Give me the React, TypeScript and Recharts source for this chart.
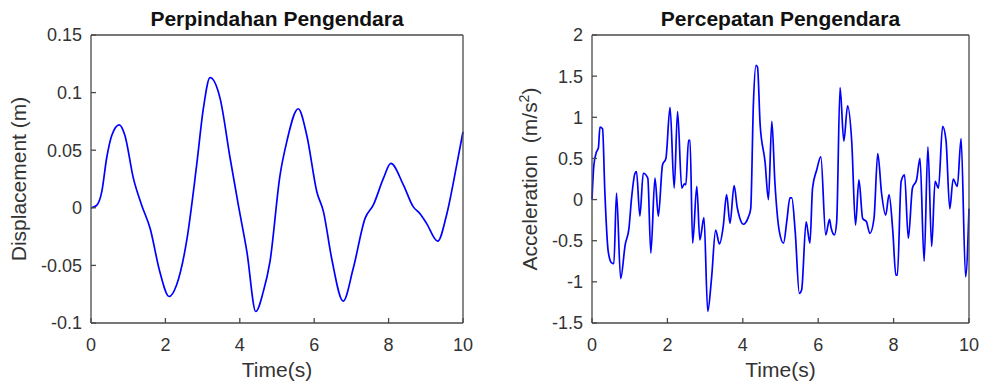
import React from 'react';
import { LineChart, Line, XAxis, YAxis } from 'recharts';

// Displacement response (m) sampled along time (s)
const dispTime = [
  0, 0.15, 0.29, 0.42, 0.56, 0.76, 0.91, 1.14, 1.36, 1.59, 1.85, 2.1, 2.3, 2.57, 2.84, 3.02, 3.2, 3.47,
  3.74, 3.96, 4.19, 4.43, 4.63, 4.81, 5.08, 5.26, 5.57, 5.8, 6.07, 6.25, 6.47, 6.78, 7.05, 7.37, 7.59,
  7.86, 8.06, 8.4, 8.66, 8.84, 9.02, 9.32, 9.56, 9.83, 10,
];
const dispValue = [
  0, 0.002, 0.014, 0.043, 0.063, 0.072, 0.063, 0.0255, 0.0025, -0.018, -0.0555, -0.077, -0.067, -0.029,
  0.037, 0.086, 0.113, 0.095, 0.043, 0.0025, -0.038, -0.09, -0.073, -0.047, 0.028, 0.057, 0.086, 0.063,
  0.014, -0.0035, -0.044, -0.081, -0.0525, -0.009, 0.0025, 0.0255, 0.0385, 0.0197, 0.001, -0.005, -0.0135,
  -0.029, -0.006, 0.037, 0.066,
];

// Acceleration response (m/s^2)
const accTime = [
  0, 0.05, 0.12, 0.17, 0.21, 0.28, 0.34, 0.43, 0.52, 0.58, 0.65, 0.76, 0.88, 0.98, 1.05, 1.14, 1.18, 1.27,
  1.36, 1.48, 1.56, 1.67, 1.76, 1.87, 1.96, 2.07, 2.18, 2.27, 2.38, 2.45, 2.49, 2.56, 2.6, 2.67, 2.78, 2.86,
  2.97, 3.07, 3.17, 3.28, 3.38, 3.48, 3.57, 3.66, 3.77, 3.85, 3.91, 4.01, 4.15, 4.21, 4.28, 4.35, 4.39, 4.46,
  4.59, 4.68, 4.77, 4.85, 4.97, 5.08, 5.17, 5.25, 5.3, 5.39, 5.5, 5.56, 5.68, 5.78, 5.85, 5.96, 6.07, 6.2,
  6.3, 6.34, 6.43, 6.49, 6.58, 6.68, 6.78, 6.89, 6.99, 7.08, 7.18, 7.28, 7.37, 7.48, 7.58, 7.68, 7.79, 7.88,
  7.98, 8.06, 8.1, 8.2, 8.29, 8.39, 8.5, 8.61, 8.7, 8.81, 8.91, 9.01, 9.1, 9.19, 9.3, 9.39, 9.49, 9.58, 9.69,
  9.79, 9.91, 10,
];
const accValue = [
  0, 0.42, 0.58, 0.63, 0.88, 0.86, 0.1, -0.63, -0.77, -0.78, 0.08, -0.96, -0.55, -0.35, 0.02, 0.32, 0.34, -0.2,
  0.32, 0.26, -0.65, 0.26, -0.2, 0.42, 0.5, 1.12, 0.14, 1.07, 0.14, 0.19, 0.18, 0.72, 0.72, -0.53, 0.16, -0.49,
  -0.22, -1.36, -0.96, -0.37, -0.54, -0.33, 0.06, -0.29, 0.17, -0.09, -0.21, -0.3, -0.21, -0.11, 1.15, 1.63, 1.61, 0.91,
  0.46, 0, 0.95, 0.22, -0.39, -0.53, -0.25, 0.02, 0.02, -0.39, -1.14, -1.1, -0.27, -0.53, 0.14, 0.36, 0.52, -0.43,
  -0.24, -0.34, -0.43, -0.27, 1.36, 0.71, 1.14, 0.7, -0.31, 0.24, -0.23, -0.27, -0.41, -0.23, 0.56, 0.08, -0.19, 0.06,
  -0.39, -0.92, -0.92, 0.22, 0.3, -0.47, 0.14, 0.24, 0.5, -0.75, 0.64, -0.57, 0.22, 0.14, 0.89, 0.72, -0.11, 0.25, 0.16,
  0.74, -0.94, -0.11,
];

const timeTicks = [0, 2, 4, 6, 8, 10];
const dispTicks = [-0.1, -0.05, 0, 0.05, 0.1, 0.15];
const accTicks = [-1.5, -1, -0.5, 0, 0.5, 1, 1.5, 2];

const dispData = dispTime.map((t, i) => ({ t, v: dispValue[i] }));
const accData = accTime.map((t, i) => ({ t, v: accValue[i] }));

const FONT = "'Liberation Sans', Arial, sans-serif";
const AXIS = '#4a4a4a';
const TEXT = '#333333';
const tickStyle = { fill: TEXT, fontSize: 18, fontFamily: FONT };

const XTitle = (props: any) => {
  const vb = props.viewBox;
  return (
    <text x={vb.x + vb.width / 2} y={vb.y + 54} textAnchor="middle" fontSize={21} fill={TEXT} fontFamily={FONT}>
      Time(s)
    </text>
  );
};

const YTitle = (props: any) => {
  const { viewBox: vb, base, sup, children } = props;
  const x = vb.x + base;
  const y = vb.y + vb.height / 2;
  return (
    <text
      x={x}
      y={y}
      transform={`rotate(-90, ${x}, ${y})`}
      textAnchor="middle"
      fontSize={21}
      fill={TEXT}
      fontFamily={FONT}
      style={{ whiteSpace: 'pre' }}
    >
      {children}
      {sup && (
        <>
          <tspan dy={-8} fontSize={14}>{sup}</tspan>
          <tspan dy={8}>)</tspan>
        </>
      )}
    </text>
  );
};

type PanelProps = {
  left: number;
  width: number;
  yWidth: number;
  rightGap: number;
  title: string;
  data: { t: number; v: number }[];
  yTicks: number[];
  label: React.ReactElement;
};

// one boxed subplot: bottom/left axes with labels, top/right axes carry only the inward ticks
const Panel = ({ left, width, yWidth, rightGap, title, data, yTicks, label }: PanelProps) => {
  const yDomain = [yTicks[0], yTicks[yTicks.length - 1]];
  return (
    <div style={{ position: 'absolute', left, top: 0, width, height: 381 }}>
      <div
        style={{
          position: 'absolute',
          left: yWidth,
          top: 8,
          width: width - yWidth - rightGap,
          textAlign: 'center',
          fontSize: 21,
          lineHeight: '21px',
          fontWeight: 'bold',
          color: '#111',
          fontFamily: FONT,
        }}
      >
        {title}
      </div>
      <LineChart width={width} height={381} data={data} margin={{ top: 34, right: rightGap - 1, bottom: 0, left: 0 }}>
        <XAxis
          dataKey="t"
          type="number"
          domain={[0, 10]}
          ticks={timeTicks}
          height={58}
          stroke={AXIS}
          strokeWidth={1.3}
          tickSize={-5}
          tickMargin={20}
          tick={tickStyle}
          label={<XTitle />}
        />
        <XAxis
          xAxisId="top"
          orientation="top"
          dataKey="t"
          type="number"
          domain={[0, 10]}
          ticks={timeTicks}
          height={1}
          stroke={AXIS}
          strokeWidth={1.3}
          tickSize={-5}
          tick={false}
        />
        <YAxis
          type="number"
          domain={yDomain}
          ticks={yTicks}
          width={yWidth}
          stroke={AXIS}
          strokeWidth={1.3}
          tickSize={-5}
          tickMargin={14}
          tick={tickStyle}
          label={label}
        />
        <YAxis
          yAxisId="right"
          orientation="right"
          type="number"
          domain={yDomain}
          ticks={yTicks}
          width={1}
          stroke={AXIS}
          strokeWidth={1.3}
          tickSize={-5}
          tick={false}
        />
        <Line
          dataKey="v"
          type="monotone"
          stroke="#0000ff"
          strokeWidth={1.7}
          dot={false}
          isAnimationActive={false}
        />
      </LineChart>
    </div>
  );
};

export default function App() {
  return (
    <div style={{ position: 'absolute', left: 0, top: 0, width: 981, height: 381, background: '#fff', fontFamily: FONT }}>
      <Panel
        left={0}
        width={490}
        yWidth={91}
        rightGap={27}
        title="Perpindahan Pengendara"
        data={dispData}
        yTicks={dispTicks}
        label={<YTitle base={26}>Displacement (m)</YTitle>}
      />
      <Panel
        left={490}
        width={491}
        yWidth={102}
        rightGap={12}
        title="Percepatan Pengendara"
        data={accData}
        yTicks={accTicks}
        label={<YTitle base={47} sup="2">{'Acceleration  (m/s'}</YTitle>}
      />
    </div>
  );
}
